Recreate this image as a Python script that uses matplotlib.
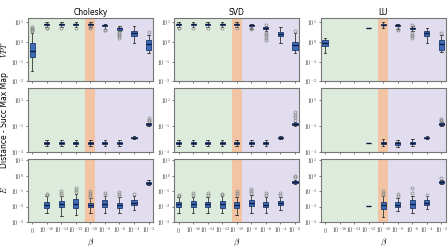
import matplotlib
matplotlib.use('Agg')
import matplotlib.pyplot as plt

plt.rcParams['mathtext.fontset'] = 'cm'
plt.rcParams['font.family'] = ['DejaVu Sans']

BETA_LABELS = [r'$0$', r'$10^{-16}$', r'$10^{-14}$', r'$10^{-12}$', r'$10^{-10}$',
               r'$10^{-8}$', r'$10^{-6}$', r'$10^{-4}$', r'$10^{-2}$']
METHODS = ['Cholesky', 'SVD', 'LU']
ROW_LABELS = [r'$VPT$', 'Distance - Succ Max Map', r'$E$']

# (whislo, q1, med, q3, whishi); None = no data
CHOL_VPT = [(0.035, 0.18, 0.36, 0.92, 3.0), (6.0, 7.5, 8.2, 8.8, 10.0),
            (6.0, 7.5, 8.2, 8.8, 10.0), (6.0, 7.5, 8.2, 8.8, 10.0),
            (6.0, 7.4, 8.1, 8.8, 10.0), (4.5, 6.2, 7.0, 7.6, 8.6),
            (3.5, 4.3, 4.9, 5.4, 6.2), (0.9, 2.1, 2.8, 3.5, 6.5),
            (0.27, 0.4, 0.75, 1.3, 2.4)]
CHOL_VPT_FL = [[3.5, 4.0, 4.6, 5.2, 6.0], [5.2, 5.5], [5.3], [5.4], [5.0, 5.6],
               [4.0, 4.3], [1.6, 2.0, 2.4, 2.8, 3.1], [], [3.1]]
SVD_VPT = [(6.0, 7.5, 8.2, 8.8, 10.0), (6.0, 7.5, 8.2, 8.8, 10.0),
           (6.0, 7.5, 8.2, 8.8, 10.0), (6.0, 7.5, 8.2, 8.8, 10.0),
           (6.0, 7.4, 8.1, 8.8, 10.0), (4.8, 6.2, 7.0, 7.6, 8.6),
           (3.5, 4.5, 5.2, 5.6, 6.3), (0.9, 2.0, 2.7, 3.4, 6.0),
           (0.28, 0.4, 0.7, 1.05, 3.0)]
SVD_VPT_FL = [[5.0, 5.4], [5.2], [5.3], [5.4], [5.1], [4.5, 5.0],
              [1.3, 1.7, 2.1, 2.5, 2.9, 7.5], [], [3.6]]
LU_VPT = [(0.28, 0.6, 0.9, 1.3, 1.6), None, None, (5.3, 5.3, 5.3, 5.3, 5.3),
          (5.5, 7.0, 7.5, 8.5, 10.0), (4.5, 6.2, 7.0, 7.6, 8.6),
          (3.5, 4.4, 5.0, 5.5, 6.3), (0.9, 2.1, 2.8, 3.5, 5.5),
          (0.3, 0.4, 0.8, 1.3, 2.2)]
LU_VPT_FL = [[], [], [], [], [], [4.0, 4.5], [1.6, 2.0, 2.4, 2.8, 7.0], [], [3.0]]

CHOL_DIST = [None] + [(0.0026, 0.0038, 0.0046, 0.0055, 0.0078)] * 6 + \
            [(0.009, 0.011, 0.0125, 0.014, 0.017), (0.11, 0.13, 0.145, 0.16, 0.18)]
CHOL_DIST_FL = [[], [], [], [], [], [], [], [], [0.25, 0.3, 0.4]]
SVD_DIST = [(0.0026, 0.0038, 0.0046, 0.0055, 0.0078)] * 7 + \
           [(0.009, 0.011, 0.0125, 0.014, 0.017), (0.11, 0.13, 0.15, 0.17, 0.2)]
SVD_DIST_FL = [[], [], [], [], [], [], [], [], [0.3, 0.5, 0.8, 1.2]]
LU_DIST = [None, None, None, (0.0045, 0.0045, 0.0045, 0.0045, 0.0045),
           (0.0026, 0.0038, 0.005, 0.006, 0.009), (0.0024, 0.0036, 0.0045, 0.0055, 0.008),
           (0.0028, 0.004, 0.005, 0.006, 0.009), (0.009, 0.011, 0.0125, 0.014, 0.018),
           (0.11, 0.13, 0.15, 0.17, 0.2)]
LU_DIST_FL = [[], [], [], [], [], [], [], [], [0.25, 0.3, 0.37]]

CHOL_E = [None, (0.0036, 0.0078, 0.013, 0.021, 0.046), (0.0025, 0.009, 0.014, 0.022, 0.05),
          (0.003, 0.008, 0.015, 0.03, 0.07), (0.004, 0.009, 0.013, 0.017, 0.035),
          (0.004, 0.01, 0.015, 0.025, 0.05), (0.004, 0.008, 0.012, 0.018, 0.04),
          (0.006, 0.012, 0.017, 0.025, 0.05), (0.25, 0.3, 0.36, 0.42, 0.5)]
CHOL_E_FL = [[], [0.055, 0.07], [0.06, 0.08, 0.1], [0.09, 0.12, 0.16],
             [0.045, 0.06, 0.08, 0.1], [0.06, 0.08], [0.05, 0.07, 0.09], [0.07], []]
SVD_E = [(0.004, 0.009, 0.014, 0.02, 0.04), (0.004, 0.009, 0.015, 0.022, 0.045),
         (0.004, 0.009, 0.014, 0.021, 0.045), (0.004, 0.008, 0.014, 0.023, 0.05),
         (0.003, 0.008, 0.013, 0.02, 0.045), (0.004, 0.011, 0.018, 0.028, 0.06),
         (0.004, 0.009, 0.013, 0.019, 0.04), (0.006, 0.012, 0.017, 0.024, 0.045),
         (0.3, 0.35, 0.4, 0.45, 0.55)]
SVD_E_FL = [[0.05, 0.06], [0.06, 0.08], [0.06, 0.08], [0.06, 0.07],
            [0.06, 0.08, 0.1], [0.08, 0.1, 0.13], [0.06, 0.08], [0.06, 0.08], [0.8, 1.0]]
LU_E = [None, None, None, (0.011, 0.011, 0.011, 0.011, 0.011),
        (0.002, 0.007, 0.012, 0.02, 0.05), (0.005, 0.009, 0.013, 0.02, 0.035),
        (0.004, 0.008, 0.014, 0.025, 0.05), (0.007, 0.012, 0.018, 0.025, 0.05),
        (0.3, 0.35, 0.4, 0.45, 0.55)]
LU_E_FL = [[], [], [], [], [0.06, 0.08, 0.1], [0.05, 0.07], [0.08, 0.15], [0.06], [0.7]]

PANELS = [
    [(CHOL_VPT, CHOL_VPT_FL), (SVD_VPT, SVD_VPT_FL), (LU_VPT, LU_VPT_FL)],
    [(CHOL_DIST, CHOL_DIST_FL), (SVD_DIST, SVD_DIST_FL), (LU_DIST, LU_DIST_FL)],
    [(CHOL_E, CHOL_E_FL), (SVD_E, SVD_E_FL), (LU_E, LU_E_FL)],
]
YLIMS = [(1e-2, 17), (1e-3, 90), (1e-3, 13)]
YTICKS = [[1e-2, 1e-1, 1e0, 1e1], [1e-3, 1e-1, 1e1], [1e-3, 1e-2, 1e-1, 1e0, 1e1]]
YTICKLABELS = [[r'$10^{-2}$', r'$10^{-1}$', r'$10^{0}$', r'$10^{1}$'],
               [r'$10^{-3}$', r'$10^{-1}$', r'$10^{1}$'],
               [r'$10^{-3}$', r'$10^{-2}$', r'$10^{-1}$', r'$10^{0}$', r'$10^{1}$']]


def make_stats(rows, fliers):
    stats, pos = [], []
    for i, row in enumerate(rows):
        if row is None:
            continue
        lo, q1, med, q3, hi = row
        stats.append(dict(whislo=lo, q1=q1, med=med, q3=q3, whishi=hi,
                          fliers=fliers[i]))
        pos.append(i)
    return stats, pos


def main():
    fig, axes = plt.subplots(3, 3, figsize=(4.48, 2.52), dpi=100)
    fig.subplots_adjust(left=0.062, right=0.995, top=0.929, bottom=0.119,
                        wspace=0.17, hspace=0.11)
    for r in range(3):
        for c in range(3):
            ax = axes[r, c]
            rows, fl = PANELS[r][c]
            ax.axvspan(-0.5, 3.65, color='#dcebdb', lw=0, zorder=0)
            ax.axvspan(3.65, 4.35, color='#f3c4a4', lw=0, zorder=0)
            ax.axvspan(4.35, 8.5, color='#e1ddee', lw=0, zorder=0)
            stats, pos = make_stats(rows, fl)
            ax.bxp(stats, positions=pos, widths=0.35, patch_artist=True,
                   boxprops=dict(facecolor='#3d6cb9', edgecolor='#1e3a70', lw=0.6),
                   medianprops=dict(color='#0b1a40', lw=1.0),
                   whiskerprops=dict(color='#333333', lw=0.6),
                   capprops=dict(color='#333333', lw=0.6),
                   flierprops=dict(marker='o', markersize=2.2, markerfacecolor='none',
                                   markeredgecolor='#888888', markeredgewidth=0.5),
                   zorder=3)
            ax.set_yscale('log')
            ax.set_ylim(*YLIMS[r])
            ax.set_yticks(YTICKS[r])
            ax.set_yticklabels(YTICKLABELS[r])
            ax.minorticks_off()
            ax.set_xlim(-0.3, 8.3)
            ax.set_xticks(range(9))
            if r == 2:
                ax.set_xticklabels(BETA_LABELS)
                ax.set_xlabel(r'$\beta$', fontsize=6.5, labelpad=1)
            else:
                ax.set_xticklabels([])
            ax.tick_params(labelsize=4.2, length=1.5, width=0.5, pad=1.2,
                           colors='#444444')
            for s in ax.spines.values():
                s.set_color('#777777')
                s.set_linewidth(0.8)
            if r == 0:
                ax.set_title(METHODS[c], fontsize=5.5, pad=2)
            if c == 0:
                ax.set_ylabel(ROW_LABELS[r], fontsize=5.5)
                ax.yaxis.set_label_coords(-0.15, 0.5)
    fig.savefig('out.png', dpi=100)


if __name__ == '__main__':
    main()
